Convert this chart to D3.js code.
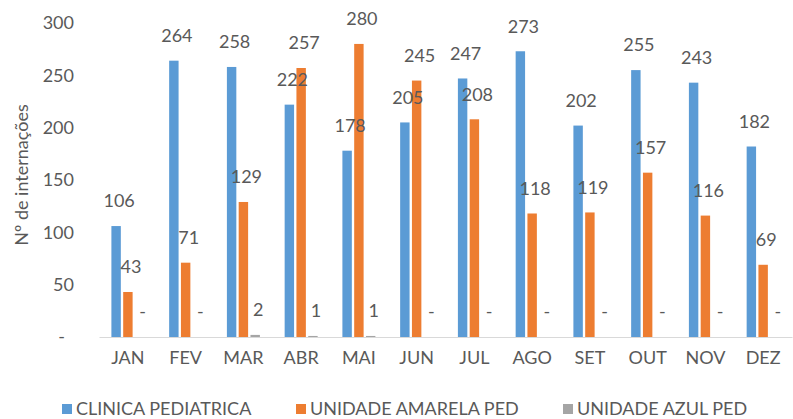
<!DOCTYPE html>
<html><head><meta charset="utf-8">
<script src="https://cdn.jsdelivr.net/npm/d3@7"></script>
<style>
body{margin:0;background:#fff;}
svg text{font-family:Lato,"Open Sans",sans-serif;fill:#595959;}
</style></head>
<body><svg id="c" width="793" height="419"></svg>
<script>
const months = ["JAN","FEV","MAR","ABR","MAI","JUN","JUL","AGO","SET","OUT","NOV","DEZ"];
const seriesNames = ["CLINICA PEDIATRICA","UNIDADE AMARELA PED","UNIDADE AZUL PED"];
const clinica = [106,264,258,222,178,205,247,273,202,255,243,182];
const amarela = [43,71,129,257,280,245,208,118,119,157,116,69];
const azul = [0,0,2,1,1,0,0,0,0,0,0,0];
const yTicks = [0,50,100,150,200,250,300];
const colors = ["#5B9BD5","#ED7D31","#A5A5A5"];
const yTitle = "Nº de internações";

const values = [clinica, amarela, azul];
const svg = d3.select("#c");
const x = d3.scaleBand().domain(months).range([99,792]).padding(0);
const x1 = d3.scaleBand().domain(seriesNames).range([12.4,45.4]).paddingInner(0.2);
const y = d3.scaleLinear().domain([0,300]).range([337,23]);

// y axis labels
const ya = svg.append("g").attr("transform","translate(74,0)")
  .call(d3.axisLeft(y).tickValues(yTicks).tickSize(0).tickPadding(0)
    .tickFormat(d => d===0 ? "-" : d));
ya.select(".domain").remove();
ya.selectAll("text").style("font-size","18px").style("font-family","Lato").attr("fill","#595959")
  .attr("dx", d => d===0 ? -9 : 0);

// x axis
const xa = svg.append("g").attr("transform","translate(0,337)")
  .call(d3.axisBottom(x).tickSize(0).tickPadding(14));
xa.select(".domain").attr("stroke","#d9d9d9").attr("stroke-width",1.2);
xa.selectAll("text").style("font-size","18px").style("font-family","Lato").attr("fill","#595959");

// bars
const barsG = svg.append("g");
const labelsG = svg.append("g");
seriesNames.forEach((s,si)=>{
  barsG.append("g").selectAll("rect").data(months).join("rect")
    .attr("x", m => x(m)+x1(s))
    .attr("width", x1.bandwidth())
    .attr("y", (m,i)=> y(values[si][i]))
    .attr("height", (m,i)=> y(0)-y(values[si][i]))
    .attr("fill", colors[si]);
  labelsG.append("g").selectAll("text").data(months).join("text")
    .attr("x", m => x(m)+x1(s)+x1.bandwidth()/2+3)
    .attr("y", (m,i)=> y(values[si][i]) - 25)
    .attr("dy","0.35em")
    .attr("text-anchor","middle")
    .style("font-size","18px")
    .text((m,i)=> values[si][i]===0 ? "-" : values[si][i]);
});

// y title
svg.append("text").attr("transform","translate(22,175) rotate(-90)")
  .attr("text-anchor","middle").attr("dy","0.35em").style("font-size","18px").text(yTitle);

// legend
const legX = [62,296,563];
seriesNames.forEach((s,i)=>{
  svg.append("rect").attr("x",legX[i]).attr("y",404).attr("width",10).attr("height",10).attr("fill",colors[i]);
  svg.append("text").attr("x",legX[i]+14).attr("y",409).attr("dy","0.35em").style("font-size","18px").text(s);
});
</script></body></html>
